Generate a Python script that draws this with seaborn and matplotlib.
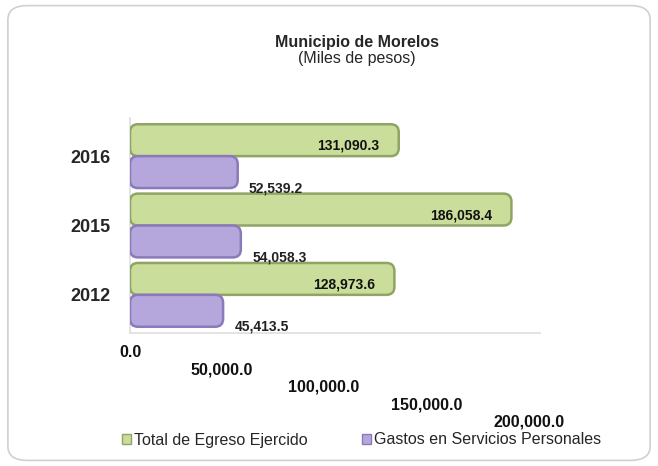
import matplotlib
matplotlib.use("Agg")
import matplotlib.pyplot as plt
import matplotlib.transforms as mtrans
import seaborn as sns
import pandas as pd
from matplotlib.patches import FancyBboxPatch, Rectangle

years = ["2016", "2015", "2012"]
series = ["Total de Egreso Ejercido", "Gastos en Servicios Personales"]
total_egreso = [131090.3, 186058.4, 128973.6]
gastos_personales = [52539.2, 54058.3, 45413.5]
xticks = [0, 50000, 100000, 150000, 200000]
xtick_labels = ["0.0", "50,000.0", "100,000.0", "150,000.0", "200,000.0"]

df = pd.DataFrame({
    "year": years * 2,
    "value": total_egreso + gastos_personales,
    "serie": [series[0]] * 3 + [series[1]] * 3,
})

sns.set_theme(style="white")
plt.rcParams["font.family"] = ["Liberation Sans", "DejaVu Sans"]

green_face, green_edge = "#cadd9b", "#8fa565"
purple_face, purple_edge = "#b5a6dc", "#8a7abb"

W, H = 658, 466
fig = plt.figure(figsize=(W / 100, H / 100), dpi=100)
fig.patch.set_facecolor("white")
fig.patches.append(FancyBboxPatch((0.012, 0.012), 0.976, 0.976,
                                  boxstyle="round,pad=0,rounding_size=0.03",
                                  transform=fig.transFigure, fill=False,
                                  edgecolor="#d0d0d0", linewidth=1.2))

ax_left, ax_w = 130 / W, 410 / W
ax_top_px, ax_bot_px = 118, 333
ax = fig.add_axes([ax_left, 1 - ax_bot_px / H, ax_w, (ax_bot_px - ax_top_px) / H])
sns.barplot(data=df, y="year", x="value", hue="serie", order=years,
            hue_order=series, palette=[green_face, purple_face], saturation=1,
            orient="h", width=0.92, ax=ax, legend=False)

ax.set_xlim(0, 200000)
ax.set_ylim(2.55, -0.55)

rects = [p for p in ax.patches if isinstance(p, Rectangle)]
n = len(years)
x_px_per_unit = 410 / 200000
y_px_per_unit = (ax_bot_px - ax_top_px) / 3.1
radius_x = 8 / x_px_per_unit
aspect = (8 / y_px_per_unit) / radius_x
for i, p in enumerate(rects):
    x, y, w, h = p.get_x(), p.get_y(), p.get_width(), p.get_height()
    ec = green_edge if i < n else purple_edge
    fb = FancyBboxPatch((x, y), w, h,
                        boxstyle=f"round,pad=0,rounding_size={radius_x}",
                        mutation_aspect=aspect, facecolor=p.get_facecolor(),
                        edgecolor=ec, linewidth=1.8, zorder=3)
    ax.add_patch(fb)
    p.set_visible(False)

for i, p in enumerate(rects):
    y, w, h = p.get_y(), p.get_width(), p.get_height()
    if i < n:
        ax.text(w - 9500, y + h * 0.68, f"{w:,.1f}", ha="right",
                va="center", fontsize=10, fontweight="bold", color="#111111", zorder=5)
    else:
        ax.text(w + 5500, y + h * 1.0, f"{w:,.1f}", ha="left",
                va="center", fontsize=10, fontweight="bold", color="#222222", zorder=5)

ax.set_xlabel("")
ax.set_ylabel("")
ax.set_xticks(xticks)
ax.set_xticklabels([])
ax.tick_params(axis="x", length=0)
ax.tick_params(axis="y", length=0, pad=14, labelsize=13)
for t in ax.get_yticklabels():
    t.set_fontweight("bold")
for s in ["top", "right"]:
    ax.spines[s].set_visible(False)
ax.spines["left"].set_color("#e0e0e0")
ax.spines["bottom"].set_color("#e0e0e0")

trans = mtrans.blended_transform_factory(ax.transData, ax.transAxes)
for k, (xv, lab) in enumerate(zip(xticks, xtick_labels)):
    ax.text(xv - (5500 if k else 0), -0.09 - 0.081 * k, lab, transform=trans,
            ha="center", va="center", fontsize=11.5, fontweight="bold", color="#111111")

fig.text(357 / W, 1 - 42 / H, "Municipio de Morelos", ha="center", va="center",
         fontsize=11.5, fontweight="bold")
fig.text(357 / W, 1 - 59 / H, "(Miles de pesos)", ha="center", va="center", fontsize=11.5)

handles = [Rectangle((0, 0), 1, 1, facecolor=green_face, edgecolor=green_edge),
           Rectangle((0, 0), 1, 1, facecolor=purple_face, edgecolor=purple_edge)]
fig.legend(handles, series, loc="center", bbox_to_anchor=(362 / W, 1 - 440 / H), ncol=2,
           frameon=False, fontsize=11.5, handlelength=0.55, handleheight=0.55,
           handletextpad=0.2, columnspacing=3.4)

fig.savefig("out.png", dpi=100)
